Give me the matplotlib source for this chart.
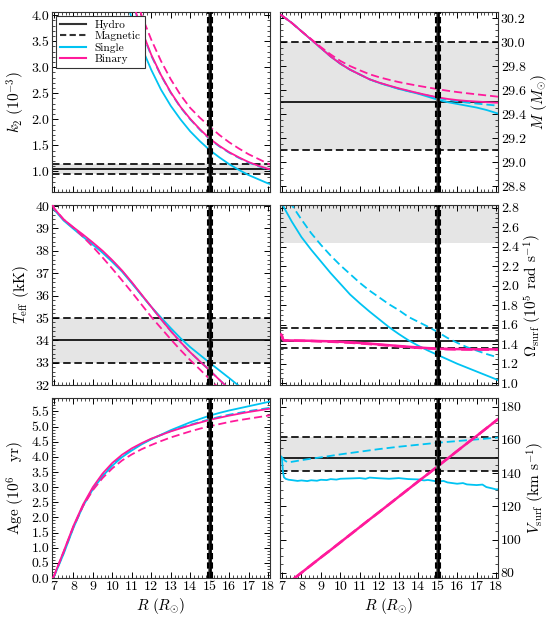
import matplotlib
matplotlib.use('Agg')
import matplotlib.pyplot as plt
from matplotlib.lines import Line2D
from matplotlib.ticker import MultipleLocator, FormatStrFormatter

plt.rcParams.update({
    'font.family': ['cmr10', 'DejaVu Serif'],
    'mathtext.fontset': 'cm',
    'axes.formatter.use_mathtext': True,
    'axes.unicode_minus': False,
    'font.size': 10,
})

CYAN = '#00C3F2'
PINK = '#FF1A9B'
BAND = '#E5E5E5'

# ---------------- data ----------------
R_grid = [6.95, 7.0, 7.5, 8.0, 8.5, 9.0, 9.5, 10.0, 10.5, 11.0, 11.5, 12.0, 12.5,
          13.0, 13.5, 14.0, 14.5, 15.0, 15.5, 16.0, 16.5, 17.0, 17.5, 18.0, 18.1]

R_k2 = [10.0, 10.5, 11.0, 11.5, 12.0, 12.5, 13.0, 13.5, 14.0, 14.5, 15.0, 15.5,
        16.0, 16.5, 17.0, 17.5, 18.0, 18.1]
k2_single_hydro = [5.5, 4.6, 3.93, 3.39, 2.95, 2.57, 2.26, 2.0, 1.77, 1.58, 1.41, 1.27,
                   1.14, 1.03, 0.93, 0.85, 0.77, 0.76]
k2_single_mag = [5.95, 4.98, 4.28, 3.7, 3.22, 2.84, 2.51, 2.23, 2.0, 1.8, 1.62, 1.48,
                 1.36, 1.26, 1.17, 1.1, 1.04, 1.03]
k2_binary_hydro = [6.0, 5.0, 4.3, 3.72, 3.24, 2.85, 2.52, 2.24, 2.01, 1.81, 1.63, 1.49,
                   1.37, 1.27, 1.18, 1.11, 1.05, 1.04]
k2_binary_mag = [6.4, 5.4, 4.6, 4.0, 3.53, 3.12, 2.77, 2.47, 2.22, 2.03, 1.86, 1.70,
                 1.56, 1.44, 1.33, 1.24, 1.15, 1.13]

mass_single_hydro = [30.225, 30.22, 30.16, 30.09, 30.02, 29.95, 29.88, 29.82, 29.77, 29.73,
                     29.69, 29.66, 29.635, 29.61, 29.59, 29.57, 29.545, 29.52, 29.50, 29.485,
                     29.47, 29.455, 29.435, 29.41, 29.405]
mass_single_mag = [30.225, 30.22, 30.16, 30.09, 30.02, 29.95, 29.88, 29.82, 29.77, 29.73,
                   29.69, 29.66, 29.635, 29.612, 29.592, 29.573, 29.555, 29.535, 29.52, 29.507,
                   29.496, 29.488, 29.48, 29.472, 29.47]
mass_binary_hydro = [30.225, 30.22, 30.16, 30.09, 30.02, 29.95, 29.88, 29.82, 29.77, 29.73,
                     29.69, 29.662, 29.638, 29.615, 29.595, 29.575, 29.557, 29.54, 29.527, 29.517,
                     29.51, 29.505, 29.5, 29.495, 29.495]
mass_binary_mag = [30.225, 30.22, 30.16, 30.09, 30.025, 29.958, 29.897, 29.843, 29.80, 29.765,
                   29.732, 29.707, 29.686, 29.667, 29.651, 29.636, 29.622, 29.608, 29.595, 29.584,
                   29.574, 29.565, 29.556, 29.547, 29.545]

teff_single_hydro = [40.05, 39.85, 39.35, 38.98, 38.62, 38.27, 37.91, 37.5, 37.07, 36.55,
                     36.02, 35.5, 35.02, 34.55, 34.1, 33.7, 33.35, 33.0, 32.66, 32.32,
                     31.97, 31.63, 31.3, 30.97, 30.9]
teff_single_mag = [40.05, 39.88, 39.38, 39.02, 38.68, 38.33, 37.96, 37.55, 37.1, 36.58,
                   36.03, 35.49, 34.95, 34.42, 33.93, 33.47, 33.06, 32.66, 32.24, 31.83,
                   31.43, 31.04, 30.66, 30.28, 30.2]
teff_binary_hydro = [40.05, 39.9, 39.4, 39.05, 38.72, 38.37, 38.0, 37.58, 37.12, 36.6,
                     36.05, 35.5, 34.95, 34.42, 33.93, 33.47, 33.06, 32.66, 32.24, 31.83,
                     31.43, 31.04, 30.66, 30.28, 30.2]
teff_binary_mag = [40.05, 39.9, 39.4, 39.03, 38.62, 38.18, 37.7, 37.2, 36.68, 36.15,
                   35.6, 35.05, 34.55, 34.05, 33.57, 33.12, 32.7, 32.27, 31.85, 31.44,
                   31.04, 30.65, 30.27, 29.9, 29.82]

om_single_hydro = [2.86, 2.84, 2.66, 2.50, 2.37, 2.25, 2.13, 2.02, 1.91, 1.82, 1.735, 1.655,
                   1.575, 1.505, 1.44, 1.385, 1.335, 1.29, 1.245, 1.20, 1.16, 1.12, 1.08,
                   1.04, 1.03]
om_single_mag = [3.10, 3.05, 2.83, 2.68, 2.54, 2.42, 2.31, 2.21, 2.12, 2.03, 1.95, 1.88,
                 1.81, 1.75, 1.68, 1.63, 1.58, 1.525, 1.465, 1.415, 1.37, 1.335, 1.30,
                 1.27, 1.265]
R_om_binary = [6.95, 7.0, 7.05, 7.1, 7.5, 8.0, 8.5, 9.0, 9.5, 10.0, 10.5, 11.0, 11.5, 12.0,
               12.5, 13.0, 13.5, 14.0, 14.5, 15.0, 15.5, 16.0, 16.5, 17.0, 17.5, 18.0, 18.1]
om_binary_hydro = [1.50, 1.485, 1.45, 1.44, 1.438, 1.437, 1.435, 1.432, 1.43, 1.425, 1.42,
                   1.413, 1.406, 1.398, 1.39, 1.382, 1.374, 1.367, 1.36, 1.356, 1.352, 1.35,
                   1.349, 1.348, 1.348, 1.347, 1.347]
om_binary_mag = [1.50, 1.485, 1.45, 1.44, 1.437, 1.435, 1.433, 1.429, 1.426, 1.421, 1.416,
                 1.409, 1.402, 1.394, 1.386, 1.378, 1.370, 1.363, 1.357, 1.353, 1.349, 1.347,
                 1.346, 1.345, 1.345, 1.344, 1.344]

age_single_hydro = [0.0, 0.04, 0.80, 1.65, 2.38, 2.93, 3.36, 3.71, 3.99, 4.21, 4.41, 4.58,
                    4.73, 4.88, 5.01, 5.14, 5.25, 5.36, 5.45, 5.53, 5.60, 5.67, 5.74, 5.81, 5.83]
age_single_mag = [0.0, 0.05, 0.84, 1.68, 2.4, 2.96, 3.4, 3.75, 4.03, 4.25, 4.43, 4.59,
                  4.72, 4.85, 4.96, 5.06, 5.15, 5.24, 5.32, 5.39, 5.45, 5.51, 5.56, 5.61, 5.62]
age_binary_hydro = [0.0, 0.07, 0.88, 1.72, 2.43, 3.0, 3.45, 3.8, 4.07, 4.28, 4.45, 4.6,
                    4.72, 4.84, 4.94, 5.04, 5.13, 5.22, 5.29, 5.36, 5.42, 5.48, 5.53, 5.58, 5.59]
age_binary_mag = [0.0, 0.06, 0.86, 1.69, 2.38, 2.9, 3.3, 3.62, 3.88, 4.08, 4.25, 4.39,
                  4.52, 4.64, 4.74, 4.84, 4.93, 5.01, 5.08, 5.15, 5.21, 5.26, 5.31, 5.36, 5.37]

R_vs_single = [6.95, 7.0, 7.05, 7.1, 7.2, 7.35, 7.5, 7.8, 8.0, 8.3, 8.5, 8.8, 9.0, 9.3,
               9.5, 9.8, 10.0, 10.5, 11.0, 11.3, 11.5, 12.0, 12.5, 13.0, 13.5, 14.0, 14.3,
               14.5, 15.0, 15.3, 15.5, 16.0, 16.3, 16.5, 17.0, 17.3, 17.5, 17.8, 18.0, 18.1]
vs_single_hydro = [150.0, 149.0, 141.0, 137.5, 136.5, 136.0, 135.8, 135.3, 135.6, 135.2,
                   135.7, 135.4, 136.0, 135.8, 136.4, 136.1, 136.6, 136.8, 137.0, 136.6,
                   137.3, 136.9, 136.6, 137.0, 136.4, 136.2, 135.6, 135.9, 134.9, 135.3,
                   134.4, 133.6, 134.0, 133.2, 132.8, 133.1, 131.6, 130.8, 130.2, 130.3]
R_vs_single_mag = [6.95, 7.0, 7.15, 7.3, 7.5, 8.0, 8.5, 9.0, 9.5, 10.0, 10.5, 11.0, 11.5,
                   12.0, 12.5, 13.0, 13.5, 14.0, 14.5, 15.0, 15.5, 16.0, 16.5, 17.0, 17.5,
                   18.0, 18.1]
vs_single_mag = [150.0, 149.5, 147.5, 146.5, 146.8, 147.8, 148.7, 149.5, 150.4, 151.3,
                 152.1, 152.9, 153.7, 154.5, 155.2, 155.9, 156.5, 157.1, 157.7, 158.3,
                 158.8, 159.3, 159.8, 160.3, 160.8, 161.3, 161.5]
vs_binary_hydro = [70.4, 70.8, 75.4, 80.0, 84.6, 89.2, 93.7, 98.3, 102.9, 107.5, 112.1,
                   116.6, 121.2, 125.8, 130.4, 135.0, 139.5, 144.1, 148.7, 153.3, 157.9,
                   162.4, 167.0, 171.6, 172.5]
vs_binary_mag = vs_binary_hydro

# observational constraints (value, lower, upper)
obs_k2 = (1.045, 0.95, 1.14)
obs_mass = (29.5, 29.1, 30.0)
obs_teff = (34.0, 33.0, 35.0)
obs_omega_band = (2.44, 3.0)
obs_omega = (1.437, 1.366, 1.564)
obs_vsurf = (149.0, 141.0, 161.5)
R_obs = (15.02, 14.93, 15.12)

# ---------------- figure ----------------
fig, axes = plt.subplots(3, 2, figsize=(5.5, 6.22), dpi=100, sharex=True)
fig.subplots_adjust(left=0.0945, right=0.9055, top=0.9807, bottom=0.0707,
                    wspace=0.046, hspace=0.07)

DASH = (0, (4.5, 2.2))
LW = 1.3
TICKSIZE = 10
LABSIZE = 11
RLABSIZE = 11


def style(ax, side, ylim, major, minor, fmt):
    ax.set_xlim(6.9, 18.1)
    ax.set_ylim(*ylim)
    ax.xaxis.set_major_locator(MultipleLocator(1))
    ax.xaxis.set_minor_locator(MultipleLocator(0.2))
    ax.yaxis.set_major_locator(MultipleLocator(major))
    ax.yaxis.set_minor_locator(MultipleLocator(minor))
    ax.yaxis.set_major_formatter(FormatStrFormatter(fmt))
    ax.tick_params(which='both', direction='in', top=True, bottom=True,
                   left=True, right=True, labelsize=TICKSIZE, pad=2)
    ax.tick_params(which='major', length=4, width=0.7)
    ax.tick_params(which='minor', length=2, width=0.5)
    if side == 'right':
        ax.tick_params(labelleft=False, labelright=True)
        ax.yaxis.set_label_position('right')
    for s in ax.spines.values():
        s.set_linewidth(0.8)
        s.set_color('#333333')


def obs_lines(ax, o, band=True):
    val, lo, hi = o
    if band:
        ax.axhspan(lo, hi, color=BAND, zorder=0, lw=0)
    ax.axhline(val, color='k', lw=1.2, zorder=1)
    ax.axhline(lo, color='k', lw=1.2, ls=DASH, zorder=1)
    ax.axhline(hi, color='k', lw=1.2, ls=DASH, zorder=1)


def vband(ax):
    c, lo, hi = R_obs
    ax.axvspan(lo, hi, color='#777777', zorder=4, lw=0)
    ax.axvline(c, color='k', lw=1.8, zorder=5)
    ax.axvline(lo, color='k', lw=1.5, ls=(0, (3, 1.5)), zorder=5)
    ax.axvline(hi, color='k', lw=1.5, ls=(0, (3, 1.5)), zorder=5)


def curves(ax, r_s, s_h, r_sm, s_m, r_b, b_h, r_bm, b_m, lwb=LW):
    ax.plot(r_sm, s_m, color=CYAN, lw=LW, ls=DASH, zorder=2)
    ax.plot(r_s, s_h, color=CYAN, lw=LW, zorder=2)
    ax.plot(r_bm, b_m, color=PINK, lw=lwb, ls=DASH, zorder=3)
    ax.plot(r_b, b_h, color=PINK, lw=lwb, zorder=3)


# k2
ax = axes[0, 0]
obs_lines(ax, obs_k2)
curves(ax, R_k2, k2_single_hydro, R_k2, k2_single_mag, R_k2, k2_binary_hydro, R_k2, k2_binary_mag)
vband(ax)
style(ax, 'left', (0.6, 4.06), 0.5, 0.1, '%.1f')
ax.set_ylabel(r'$k_2\ (10^{-3})$', fontsize=LABSIZE, labelpad=3)
handles = [Line2D([], [], color='#333333', lw=1.5), Line2D([], [], color='#333333', lw=1.5, ls=(0, (3, 1.6))),
           Line2D([], [], color=CYAN, lw=1.5), Line2D([], [], color=PINK, lw=1.5)]
leg = ax.legend(handles, ['Hydro', 'Magnetic', 'Single', 'Binary'], loc='upper left',
                fontsize=8.2, frameon=True, fancybox=False, framealpha=1,
                edgecolor='#333333', borderpad=0.35, labelspacing=0.12,
                handlelength=2.3, handletextpad=0.75, borderaxespad=0.35)
leg.get_frame().set_linewidth(0.8)
leg.set_zorder(10)

# Mass
ax = axes[0, 1]
obs_lines(ax, obs_mass)
curves(ax, R_grid, mass_single_hydro, R_grid, mass_single_mag, R_grid, mass_binary_hydro,
       R_grid, mass_binary_mag)
vband(ax)
style(ax, 'right', (28.75, 30.25), 0.2, 0.05, '%.1f')
ax.set_ylabel(r'$M\ (M_{\odot})$', fontsize=RLABSIZE, labelpad=2)

# Teff
ax = axes[1, 0]
obs_lines(ax, obs_teff)
curves(ax, R_grid, teff_single_hydro, R_grid, teff_single_mag, R_grid, teff_binary_hydro,
       R_grid, teff_binary_mag)
vband(ax)
style(ax, 'left', (32.0, 40.05), 1, 0.2, '%d')
ax.set_ylabel(r'$T_{\rm eff}$ (kK)', fontsize=LABSIZE, labelpad=3)

# Omega
ax = axes[1, 1]
ax.axhspan(obs_omega_band[0], obs_omega_band[1], color=BAND, zorder=0, lw=0)
obs_lines(ax, obs_omega, band=False)
curves(ax, R_grid, om_single_hydro, R_grid, om_single_mag, R_om_binary, om_binary_hydro,
       R_om_binary, om_binary_mag, lwb=1.8)
vband(ax)
style(ax, 'right', (0.98, 2.83), 0.2, 0.05, '%.1f')
ax.set_ylabel(r'$\Omega_{\rm surf}\ (10^5$ rad s$^{-1})$', fontsize=RLABSIZE, labelpad=2)

# Age
ax = axes[2, 0]
curves(ax, R_grid, age_single_hydro, R_grid, age_single_mag, R_grid, age_binary_hydro,
       R_grid, age_binary_mag)
vband(ax)
style(ax, 'left', (0.0, 5.95), 0.5, 0.1, '%.1f')
ax.set_ylabel(r'Age $(10^6\ \ $ yr)', fontsize=LABSIZE, labelpad=3)
ax.set_xlabel(r'$R\ (R_{\odot})$', fontsize=LABSIZE, labelpad=2)

# Vsurf
ax = axes[2, 1]
obs_lines(ax, obs_vsurf)
curves(ax, R_vs_single, vs_single_hydro, R_vs_single_mag, vs_single_mag, R_grid,
       vs_binary_hydro, R_grid, vs_binary_mag, lwb=1.8)
vband(ax)
style(ax, 'right', (76.8, 185.4), 20, 5, '%d')
ax.set_ylabel(r'$V_{\rm surf}$ (km s$^{-1}$)', fontsize=RLABSIZE, labelpad=2)
ax.set_xlabel(r'$R\ (R_{\odot})$', fontsize=LABSIZE, labelpad=2)

for ax in axes[2]:
    ax.xaxis.set_major_formatter(FormatStrFormatter('%d'))

fig.savefig('out.png', dpi=100)
